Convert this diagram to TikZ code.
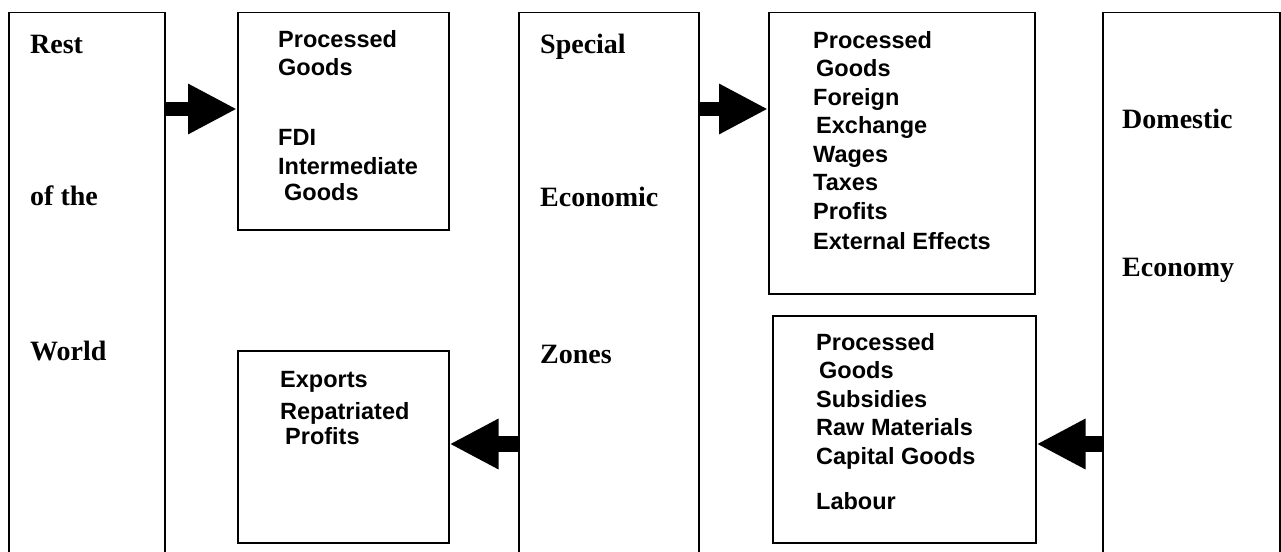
\documentclass[tikz,border=0pt]{standalone}
\usepackage{fontspec}
\setmainfont{Liberation Serif}
\newfontfamily\arialfont{Liberation Sans}
\usetikzlibrary{arrows.meta}
\begin{document}
\begin{tikzpicture}[x=1pt,y=-1pt,
  box/.style={draw, line width=1.5pt, rectangle, inner sep=0pt, anchor=north west},
  big/.style={font=\fontsize{28}{34}\selectfont\bfseries, anchor=base west, inner sep=0pt},
  lst/.style={font=\arialfont\bfseries\fontsize{23.5}{28.5}\selectfont, align=left, anchor=north west, inner sep=0pt},
  fat/.style={line width=14pt, -{Triangle[length=49pt,width=47pt]}}]
\fill[white] (0,0) rectangle (1281,551);
\clip (0,0) rectangle (1281,551);
% boxes
\node[box, minimum width=156pt, minimum height=560pt] (rw) at (8,12) {};
\node[box, minimum width=211pt, minimum height=217pt] (pg) at (237,12) {};
\node[box, minimum width=211pt, minimum height=192pt] (ex) at (237,350) {};
\node[box, minimum width=180pt, minimum height=560pt] (sez) at (518,12) {};
\node[box, minimum width=266pt, minimum height=281pt] (out) at (768,12) {};
\node[box, minimum width=263pt, minimum height=227pt] (inp) at (772,315) {};
\node[box, minimum width=177pt, minimum height=560pt] (dom) at (1102,12) {};
% big labels
\node[big] (rw1) at (30,54) {Rest};
\node[big] (rw2) at (30,205) {of the};
\node[big] (rw3) at (30,360) {World};
\node[big] (sz1) at (540,54) {Special};
\node[big] (sz2) at (540,206) {Economic};
\node[big] (sz3) at (540,363) {Zones};
\node[big] (de1) at (1122,128) {Domestic};
\node[big] (de2) at (1122,276) {Economy};
% lists
\node[lst] (pgt) at (278,30) {Processed\\Goods\\[41.5pt]FDI\\Intermediate\\[-2.5pt]\hspace*{6pt}Goods};
\node[lst] (outt) at (813,31) {Processed\\\hspace*{3pt}Goods\\Foreign\\\hspace*{3pt}Exchange\\Wages\\Taxes\\Profits\\[2pt]External Effects};
\node[lst] (inpt) at (816,333) {Processed\\\hspace*{3pt}Goods\\Subsidies\\Raw Materials\\Capital Goods\\[17pt]Labour};
\node[lst] (ext) at (280,371) {Exports\\[3.5pt]Repatriated\\[-3.5pt]\hspace*{5pt}Profits};
% arrows
\draw[fat] (rw.east |- 0,109) -- (pg.west |- 0,109);
\draw[fat] (sez.east |- 0,109) -- (out.west |- 0,109);
\draw[fat, line width=16pt] (sez.west |- 0,444) -- (ex.east |- 0,444);
\draw[fat, line width=16pt] (dom.west |- 0,444) -- (inp.east |- 0,444);
\end{tikzpicture}
\end{document}
